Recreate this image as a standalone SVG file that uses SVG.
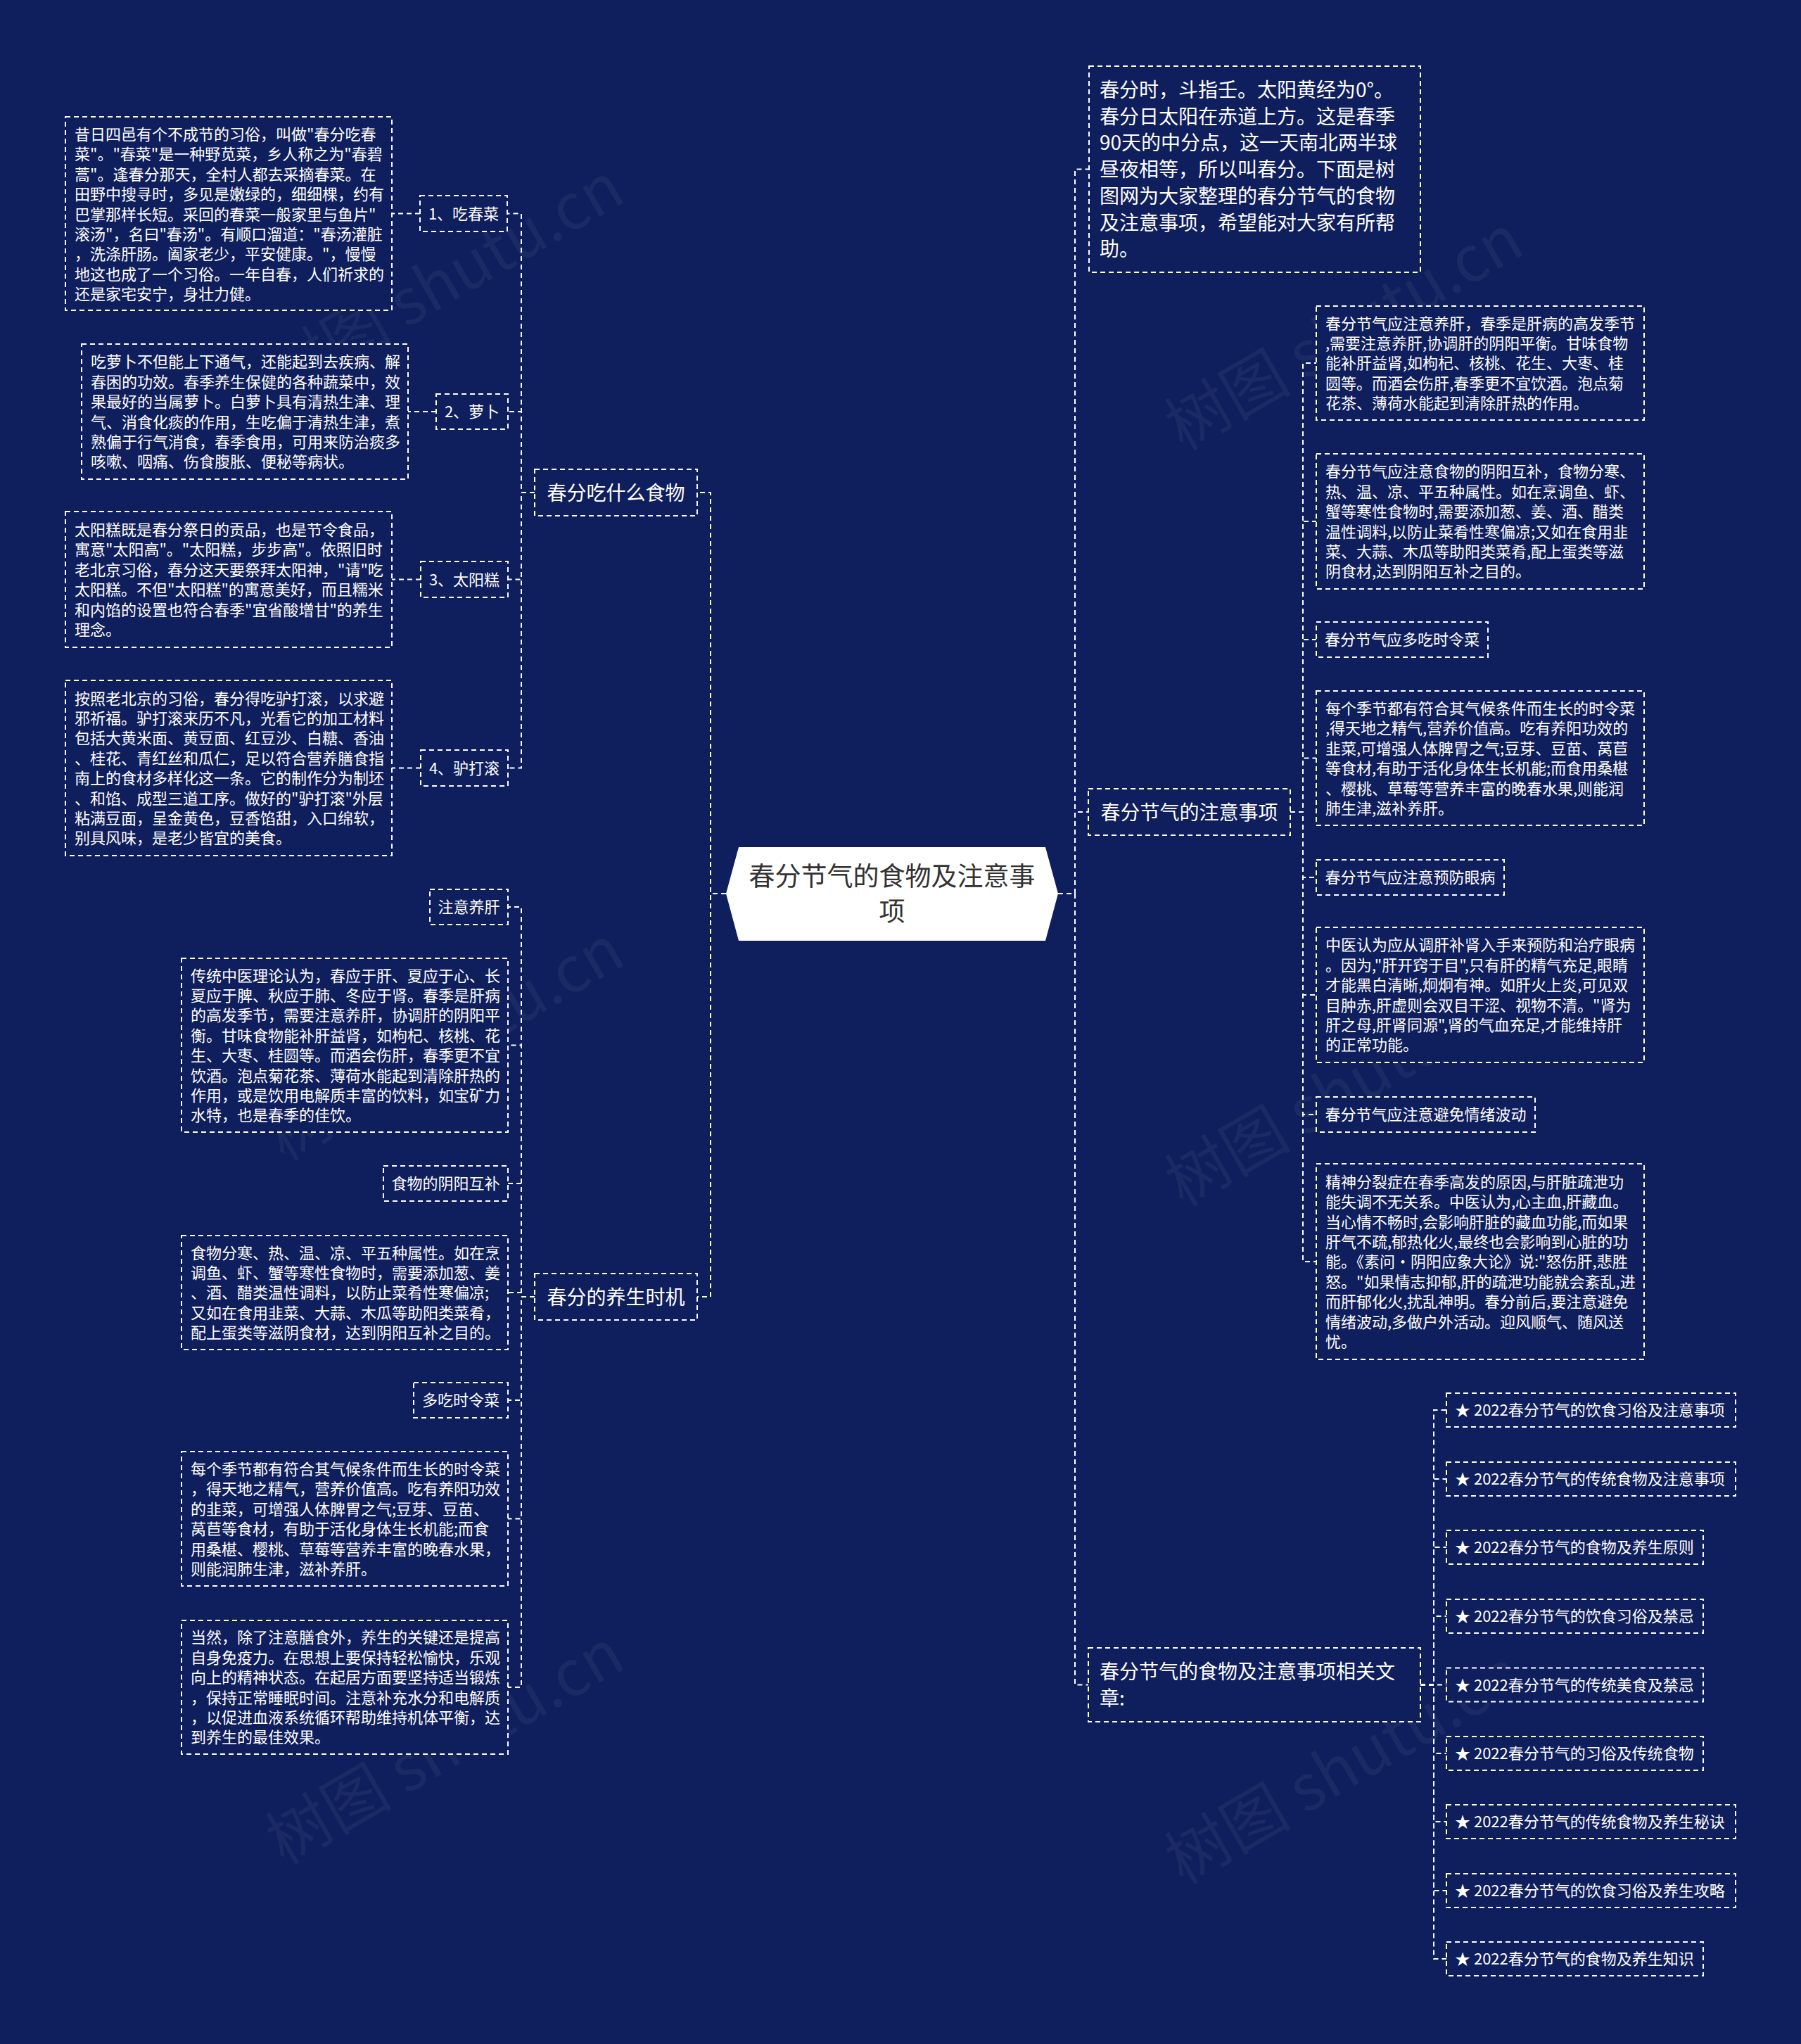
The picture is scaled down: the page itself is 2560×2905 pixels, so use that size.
<svg xmlns="http://www.w3.org/2000/svg" width="2560" height="2905" viewBox="0 0 2560 2905">
<style>
.box{fill:#0f1e5c;stroke:#ffffff;stroke-width:2;stroke-dasharray:7 5}
.ln{fill:none;stroke:#ffffff;stroke-width:2;stroke-dasharray:7 5}
.t{font-family:"Noto Sans CJK SC","Noto Sans",sans-serif;fill:#ffffff}
.s{font-size:22px}
.m{font-size:28px}
.c{text-anchor:middle}
.wm{font-family:"Noto Sans CJK SC",sans-serif;font-size:90px;fill:#ffffff;fill-opacity:0.05}
</style>
<rect x="0" y="0" width="2560" height="2905" fill="#0f1e5c"/>
<g id="watermarks">
<text class="wm" x="648" y="426" text-anchor="middle" transform="rotate(-30 648 426)">树图 shutu.cn</text>
<text class="wm" x="1926" y="500" text-anchor="middle" transform="rotate(-30 1926 500)">树图 shutu.cn</text>
<text class="wm" x="648" y="1510" text-anchor="middle" transform="rotate(-30 648 1510)">树图 shutu.cn</text>
<text class="wm" x="1926" y="1575" text-anchor="middle" transform="rotate(-30 1926 1575)">树图 shutu.cn</text>
<text class="wm" x="648" y="2510" text-anchor="middle" transform="rotate(-30 648 2510)">树图 shutu.cn</text>
<text class="wm" x="1926" y="2538" text-anchor="middle" transform="rotate(-30 1926 2538)">树图 shutu.cn</text>
</g>
<g id="connectors">
<path class="ln" d="M1032,1270 H1010 V700 H991"/>
<path class="ln" d="M1032,1270 H1010 V1843 H991"/>
<path class="ln" d="M760,700 H741 V303.5 H722"/>
<path class="ln" d="M760,700 H741 V585 H722"/>
<path class="ln" d="M760,700 H741 V823.5 H722"/>
<path class="ln" d="M760,700 H741 V1091.5 H722"/>
<path class="ln" d="M597,303.5 H557"/>
<path class="ln" d="M620,585 H580"/>
<path class="ln" d="M598,823.5 H557"/>
<path class="ln" d="M598,1091.5 H557"/>
<path class="ln" d="M760,1843 H741 V1289 H722"/>
<path class="ln" d="M760,1843 H741 V1485.5 H722"/>
<path class="ln" d="M760,1843 H741 V1682 H722"/>
<path class="ln" d="M760,1843 H741 V1837 H722"/>
<path class="ln" d="M760,1843 H741 V1990 H722"/>
<path class="ln" d="M760,1843 H741 V2158.5 H722"/>
<path class="ln" d="M760,1843 H741 V2398 H722"/>
<path class="ln" d="M1504,1270 H1528 V240.5 H1548"/>
<path class="ln" d="M1504,1270 H1528 V1154 H1547"/>
<path class="ln" d="M1504,1270 H1528 V2394.5 H1547"/>
<path class="ln" d="M1834,1154 H1852 V516 H1871"/>
<path class="ln" d="M1834,1154 H1852 V741 H1871"/>
<path class="ln" d="M1834,1154 H1852 V909 H1871"/>
<path class="ln" d="M1834,1154 H1852 V1077.5 H1871"/>
<path class="ln" d="M1834,1154 H1852 V1247 H1871"/>
<path class="ln" d="M1834,1154 H1852 V1414 H1871"/>
<path class="ln" d="M1834,1154 H1852 V1584 H1871"/>
<path class="ln" d="M1834,1154 H1852 V1793 H1871"/>
<path class="ln" d="M2019,2394.5 H2038 V2004 H2056"/>
<path class="ln" d="M2019,2394.5 H2038 V2102 H2056"/>
<path class="ln" d="M2019,2394.5 H2038 V2199 H2056"/>
<path class="ln" d="M2019,2394.5 H2038 V2297 H2056"/>
<path class="ln" d="M2019,2394.5 H2038 V2394.5 H2056"/>
<path class="ln" d="M2019,2394.5 H2038 V2492 H2056"/>
<path class="ln" d="M2019,2394.5 H2038 V2589 H2056"/>
<path class="ln" d="M2019,2394.5 H2038 V2687 H2056"/>
<path class="ln" d="M2019,2394.5 H2038 V2784 H2056"/>
</g>
<g id="center">
<polygon points="1050,1204 1486,1204 1504,1270 1486,1337 1050,1337 1032,1270" fill="#ffffff"/>
<text class="c" x="1268" y="1259" font-family="Noto Sans CJK SC, sans-serif" font-size="37" fill="#333333">春分节气的食物及注意事</text>
<text class="c" x="1268" y="1309" font-family="Noto Sans CJK SC, sans-serif" font-size="37" fill="#333333">项</text>
</g>
<g id="b1">
<rect class="box" x="760" y="667" width="231" height="66"/>
<text class="t m c" x="875.5" y="710.5">春分吃什么食物</text>
</g>
<g id="b2">
<rect class="box" x="760" y="1810" width="231" height="66"/>
<text class="t m c" x="875.5" y="1853.5">春分的养生时机</text>
</g>
<g id="l1">
<rect class="box" x="597" y="278" width="124" height="51"/>
<text class="t s c" x="659" y="311.5">1、吃春菜</text>
</g>
<g id="l2">
<rect class="box" x="620" y="560" width="102" height="50"/>
<text class="t s c" x="671" y="593">2、萝卜</text>
</g>
<g id="l3">
<rect class="box" x="598" y="798" width="124" height="51"/>
<text class="t s c" x="660" y="831.5">3、太阳糕</text>
</g>
<g id="l4">
<rect class="box" x="598" y="1066" width="124" height="51"/>
<text class="t s c" x="660" y="1099.5">4、驴打滚</text>
</g>
<g id="ta">
<rect class="box" x="93" y="166" width="464" height="275"/>
<text class="t s" x="106" y="199">
<tspan x="106">昔日四邑有个不成节的习俗，叫做"春分吃春</tspan>
<tspan x="106" dy="28.4">菜"。"春菜"是一种野苋菜，乡人称之为"春碧</tspan>
<tspan x="106" dy="28.4">蒿"。逢春分那天，全村人都去采摘春菜。在</tspan>
<tspan x="106" dy="28.4">田野中搜寻时，多见是嫩绿的，细细棵，约有</tspan>
<tspan x="106" dy="28.4">巴掌那样长短。采回的春菜一般家里与鱼片"</tspan>
<tspan x="106" dy="28.4">滚汤"，名曰"春汤"。有顺口溜道："春汤灌脏</tspan>
<tspan x="106" dy="28.4">，洗涤肝肠。阖家老少，平安健康。"，慢慢</tspan>
<tspan x="106" dy="28.4">地这也成了一个习俗。一年自春，人们祈求的</tspan>
<tspan x="106" dy="28.4">还是家宅安宁，身壮力健。</tspan>
</text>
</g>
<g id="tb">
<rect class="box" x="116" y="489" width="464" height="192"/>
<text class="t s" x="129" y="522.4">
<tspan x="129">吃萝卜不但能上下通气，还能起到去疾病、解</tspan>
<tspan x="129" dy="28.4">春困的功效。春季养生保健的各种蔬菜中，效</tspan>
<tspan x="129" dy="28.4">果最好的当属萝卜。白萝卜具有清热生津、理</tspan>
<tspan x="129" dy="28.4">气、消食化痰的作用，生吃偏于清热生津，煮</tspan>
<tspan x="129" dy="28.4">熟偏于行气消食，春季食用，可用来防治痰多</tspan>
<tspan x="129" dy="28.4">咳嗽、咽痛、伤食腹胀、便秘等病状。</tspan>
</text>
</g>
<g id="tc">
<rect class="box" x="93" y="727" width="464" height="193"/>
<text class="t s" x="106" y="760.9">
<tspan x="106">太阳糕既是春分祭日的贡品，也是节令食品，</tspan>
<tspan x="106" dy="28.4">寓意"太阳高"。"太阳糕，步步高"。依照旧时</tspan>
<tspan x="106" dy="28.4">老北京习俗，春分这天要祭拜太阳神，"请"吃</tspan>
<tspan x="106" dy="28.4">太阳糕。不但"太阳糕"的寓意美好，而且糯米</tspan>
<tspan x="106" dy="28.4">和内馅的设置也符合春季"宜省酸增甘"的养生</tspan>
<tspan x="106" dy="28.4">理念。</tspan>
</text>
</g>
<g id="td">
<rect class="box" x="93" y="967" width="464" height="249"/>
<text class="t s" x="106" y="1000.5">
<tspan x="106">按照老北京的习俗，春分得吃驴打滚，以求避</tspan>
<tspan x="106" dy="28.4">邪祈福。驴打滚来历不凡，光看它的加工材料</tspan>
<tspan x="106" dy="28.4">包括大黄米面、黄豆面、红豆沙、白糖、香油</tspan>
<tspan x="106" dy="28.4">、桂花、青红丝和瓜仁，足以符合营养膳食指</tspan>
<tspan x="106" dy="28.4">南上的食材多样化这一条。它的制作分为制坯</tspan>
<tspan x="106" dy="28.4">、和馅、成型三道工序。做好的"驴打滚"外层</tspan>
<tspan x="106" dy="28.4">粘满豆面，呈金黄色，豆香馅甜，入口绵软，</tspan>
<tspan x="106" dy="28.4">别具风味，是老少皆宜的美食。</tspan>
</text>
</g>
<g id="y1">
<rect class="box" x="611" y="1264" width="111" height="50"/>
<text class="t s c" x="666.5" y="1297">注意养肝</text>
</g>
<g id="y1t">
<rect class="box" x="258" y="1362" width="464" height="247"/>
<text class="t s" x="271" y="1394.5">
<tspan x="271">传统中医理论认为，春应于肝、夏应于心、长</tspan>
<tspan x="271" dy="28.4">夏应于脾、秋应于肺、冬应于肾。春季是肝病</tspan>
<tspan x="271" dy="28.4">的高发季节，需要注意养肝，协调肝的阴阳平</tspan>
<tspan x="271" dy="28.4">衡。甘味食物能补肝益肾，如枸杞、核桃、花</tspan>
<tspan x="271" dy="28.4">生、大枣、桂圆等。而酒会伤肝，春季更不宜</tspan>
<tspan x="271" dy="28.4">饮酒。泡点菊花茶、薄荷水能起到清除肝热的</tspan>
<tspan x="271" dy="28.4">作用，或是饮用电解质丰富的饮料，如宝矿力</tspan>
<tspan x="271" dy="28.4">水特，也是春季的佳饮。</tspan>
</text>
</g>
<g id="y2">
<rect class="box" x="545" y="1657" width="177" height="50"/>
<text class="t s c" x="633.5" y="1690">食物的阴阳互补</text>
</g>
<g id="y2t">
<rect class="box" x="258" y="1756" width="464" height="162"/>
<text class="t s" x="271" y="1788.6">
<tspan x="271">食物分寒、热、温、凉、平五种属性。如在烹</tspan>
<tspan x="271" dy="28.4">调鱼、虾、蟹等寒性食物时，需要添加葱、姜</tspan>
<tspan x="271" dy="28.4">、酒、醋类温性调料，以防止菜肴性寒偏凉;</tspan>
<tspan x="271" dy="28.4">又如在食用韭菜、大蒜、木瓜等助阳类菜肴，</tspan>
<tspan x="271" dy="28.4">配上蛋类等滋阴食材，达到阴阳互补之目的。</tspan>
</text>
</g>
<g id="y3">
<rect class="box" x="588" y="1965" width="134" height="50"/>
<text class="t s c" x="655" y="1998">多吃时令菜</text>
</g>
<g id="y3t">
<rect class="box" x="258" y="2063" width="464" height="191"/>
<text class="t s" x="271" y="2095.9">
<tspan x="271">每个季节都有符合其气候条件而生长的时令菜</tspan>
<tspan x="271" dy="28.4">，得天地之精气，营养价值高。吃有养阳功效</tspan>
<tspan x="271" dy="28.4">的韭菜，可增强人体脾胃之气;豆芽、豆苗、</tspan>
<tspan x="271" dy="28.4">莴苣等食材，有助于活化身体生长机能;而食</tspan>
<tspan x="271" dy="28.4">用桑椹、樱桃、草莓等营养丰富的晚春水果，</tspan>
<tspan x="271" dy="28.4">则能润肺生津，滋补养肝。</tspan>
</text>
</g>
<g id="y4t">
<rect class="box" x="258" y="2303" width="464" height="190"/>
<text class="t s" x="271" y="2335.4">
<tspan x="271">当然，除了注意膳食外，养生的关键还是提高</tspan>
<tspan x="271" dy="28.4">自身免疫力。在思想上要保持轻松愉快，乐观</tspan>
<tspan x="271" dy="28.4">向上的精神状态。在起居方面要坚持适当锻炼</tspan>
<tspan x="271" dy="28.4">，保持正常睡眠时间。注意补充水分和电解质</tspan>
<tspan x="271" dy="28.4">，以促进血液系统循环帮助维持机体平衡，达</tspan>
<tspan x="271" dy="28.4">到养生的最佳效果。</tspan>
</text>
</g>
<g id="intro">
<rect class="box" x="1548" y="94" width="471" height="293"/>
<text class="t m" x="1563" y="138">
<tspan x="1563">春分时，斗指壬。太阳黄经为0°。</tspan>
<tspan x="1563" dy="37.7">春分日太阳在赤道上方。这是春季</tspan>
<tspan x="1563" dy="37.7">90天的中分点，这一天南北两半球</tspan>
<tspan x="1563" dy="37.7">昼夜相等，所以叫春分。下面是树</tspan>
<tspan x="1563" dy="37.7">图网为大家整理的春分节气的食物</tspan>
<tspan x="1563" dy="37.7">及注意事项，希望能对大家有所帮</tspan>
<tspan x="1563" dy="37.7">助。</tspan>
</text>
</g>
<g id="b3">
<rect class="box" x="1547" y="1121" width="287" height="66"/>
<text class="t m c" x="1690.5" y="1164.5">春分节气的注意事项</text>
</g>
<g id="b4">
<rect class="box" x="1547" y="2342" width="472" height="105"/>
<text class="t m" x="1563" y="2386">
<tspan x="1563">春分节气的食物及注意事项相关文</tspan>
<tspan x="1563" dy="38">章:</tspan>
</text>
</g>
<g id="r1">
<rect class="box" x="1871" y="435" width="466" height="162"/>
<text class="t s" x="1884" y="467.6">
<tspan x="1884">春分节气应注意养肝，春季是肝病的高发季节</tspan>
<tspan x="1884" dy="28.4">,需要注意养肝,协调肝的阴阳平衡。甘味食物</tspan>
<tspan x="1884" dy="28.4">能补肝益肾,如枸杞、核桃、花生、大枣、桂</tspan>
<tspan x="1884" dy="28.4">圆等。而酒会伤肝,春季更不宜饮酒。泡点菊</tspan>
<tspan x="1884" dy="28.4">花茶、薄荷水能起到清除肝热的作用。</tspan>
</text>
</g>
<g id="r2">
<rect class="box" x="1871" y="645" width="466" height="192"/>
<text class="t s" x="1884" y="678.4">
<tspan x="1884">春分节气应注意食物的阴阳互补，食物分寒、</tspan>
<tspan x="1884" dy="28.4">热、温、凉、平五种属性。如在烹调鱼、虾、</tspan>
<tspan x="1884" dy="28.4">蟹等寒性食物时,需要添加葱、姜、酒、醋类</tspan>
<tspan x="1884" dy="28.4">温性调料,以防止菜肴性寒偏凉;又如在食用韭</tspan>
<tspan x="1884" dy="28.4">菜、大蒜、木瓜等助阳类菜肴,配上蛋类等滋</tspan>
<tspan x="1884" dy="28.4">阴食材,达到阴阳互补之目的。</tspan>
</text>
</g>
<g id="r3">
<rect class="box" x="1871" y="884" width="244" height="50"/>
<text class="t s c" x="1993" y="917">春分节气应多吃时令菜</text>
</g>
<g id="r4">
<rect class="box" x="1871" y="982" width="466" height="191"/>
<text class="t s" x="1884" y="1014.9">
<tspan x="1884">每个季节都有符合其气候条件而生长的时令菜</tspan>
<tspan x="1884" dy="28.4">,得天地之精气,营养价值高。吃有养阳功效的</tspan>
<tspan x="1884" dy="28.4">韭菜,可增强人体脾胃之气;豆芽、豆苗、莴苣</tspan>
<tspan x="1884" dy="28.4">等食材,有助于活化身体生长机能;而食用桑椹</tspan>
<tspan x="1884" dy="28.4">、樱桃、草莓等营养丰富的晚春水果,则能润</tspan>
<tspan x="1884" dy="28.4">肺生津,滋补养肝。</tspan>
</text>
</g>
<g id="r5">
<rect class="box" x="1871" y="1222" width="267" height="50"/>
<text class="t s c" x="2004.5" y="1255">春分节气应注意预防眼病</text>
</g>
<g id="r6">
<rect class="box" x="1871" y="1318" width="466" height="192"/>
<text class="t s" x="1884" y="1351.4">
<tspan x="1884">中医认为应从调肝补肾入手来预防和治疗眼病</tspan>
<tspan x="1884" dy="28.4">。因为,"肝开窍于目",只有肝的精气充足,眼睛</tspan>
<tspan x="1884" dy="28.4">才能黑白清晰,炯炯有神。如肝火上炎,可见双</tspan>
<tspan x="1884" dy="28.4">目肿赤,肝虚则会双目干涩、视物不清。"肾为</tspan>
<tspan x="1884" dy="28.4">肝之母,肝肾同源",肾的气血充足,才能维持肝</tspan>
<tspan x="1884" dy="28.4">的正常功能。</tspan>
</text>
</g>
<g id="r7">
<rect class="box" x="1871" y="1559" width="311" height="50"/>
<text class="t s c" x="2026.5" y="1592">春分节气应注意避免情绪波动</text>
</g>
<g id="r8">
<rect class="box" x="1871" y="1654" width="466" height="278"/>
<text class="t s" x="1884" y="1687.8">
<tspan x="1884">精神分裂症在春季高发的原因,与肝脏疏泄功</tspan>
<tspan x="1884" dy="28.4">能失调不无关系。中医认为,心主血,肝藏血。</tspan>
<tspan x="1884" dy="28.4">当心情不畅时,会影响肝脏的藏血功能,而如果</tspan>
<tspan x="1884" dy="28.4">肝气不疏,郁热化火,最终也会影响到心脏的功</tspan>
<tspan x="1884" dy="28.4">能。《素问·阴阳应象大论》说:"怒伤肝,悲胜</tspan>
<tspan x="1884" dy="28.4">怒。"如果情志抑郁,肝的疏泄功能就会紊乱,进</tspan>
<tspan x="1884" dy="28.4">而肝郁化火,扰乱神明。春分前后,要注意避免</tspan>
<tspan x="1884" dy="28.4">情绪波动,多做户外活动。迎风顺气、随风送</tspan>
<tspan x="1884" dy="28.4">忧。</tspan>
</text>
</g>
<g id="k1"><rect class="box" x="2056" y="1980" width="411" height="48"/><text class="t s" x="2068" y="2012">★ 2022春分节气的饮食习俗及注意事项</text></g>
<g id="k2"><rect class="box" x="2056" y="2078" width="411" height="48"/><text class="t s" x="2068" y="2110">★ 2022春分节气的传统食物及注意事项</text></g>
<g id="k3"><rect class="box" x="2056" y="2175" width="365" height="48"/><text class="t s" x="2068" y="2207">★ 2022春分节气的食物及养生原则</text></g>
<g id="k4"><rect class="box" x="2056" y="2273" width="365" height="48"/><text class="t s" x="2068" y="2305">★ 2022春分节气的饮食习俗及禁忌</text></g>
<g id="k5"><rect class="box" x="2056" y="2370.5" width="365" height="48"/><text class="t s" x="2068" y="2402.5">★ 2022春分节气的传统美食及禁忌</text></g>
<g id="k6"><rect class="box" x="2056" y="2468" width="365" height="48"/><text class="t s" x="2068" y="2500">★ 2022春分节气的习俗及传统食物</text></g>
<g id="k7"><rect class="box" x="2056" y="2565" width="411" height="48"/><text class="t s" x="2068" y="2597">★ 2022春分节气的传统食物及养生秘诀</text></g>
<g id="k8"><rect class="box" x="2056" y="2663" width="411" height="48"/><text class="t s" x="2068" y="2695">★ 2022春分节气的饮食习俗及养生攻略</text></g>
<g id="k9"><rect class="box" x="2056" y="2760" width="365" height="48"/><text class="t s" x="2068" y="2792">★ 2022春分节气的食物及养生知识</text></g>
</svg>
